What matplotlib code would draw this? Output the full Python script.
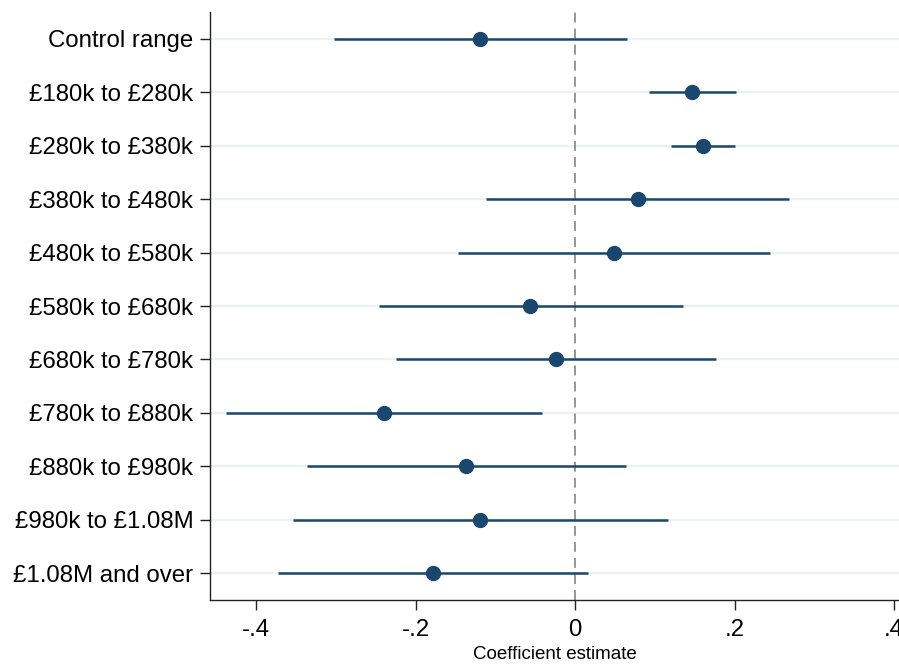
import matplotlib
matplotlib.use('Agg')
import matplotlib.pyplot as plt

# Coefficient estimates with 95% confidence intervals
labels = ['Control range', '£180k to £280k', '£280k to £380k', '£380k to £480k',
          '£480k to £580k', '£580k to £680k', '£680k to £780k', '£780k to £880k',
          '£880k to £980k', '£980k to £1.08M', '£1.08M and over']
coef = [-0.119, 0.147, 0.160, 0.079, 0.049, -0.056, -0.024, -0.239, -0.137, -0.119, -0.178]
ci_low = [-0.302, 0.093, 0.120, -0.111, -0.147, -0.246, -0.224, -0.438, -0.336, -0.354, -0.373]
ci_high = [0.065, 0.202, 0.200, 0.268, 0.245, 0.135, 0.177, -0.041, 0.064, 0.117, 0.016]
xticks = [-0.4, -0.2, 0, 0.2, 0.4]
xtick_labels = ['-.4', '-.2', '0', '.2', '.4']

plt.rcParams['font.family'] = ['Liberation Sans', 'DejaVu Sans']

navy = '#1a476f'

fig = plt.figure(figsize=(8.99, 6.65), dpi=100)
ax = fig.add_axes([210 / 899, 65 / 665, 1 - 210 / 899, 588 / 665])

ypos = list(range(len(labels)))

# faint horizontal grid at each category
for y in ypos:
    ax.axhline(y, color='#eaf2f3', lw=1.6, zorder=0)

ax.axvline(0, color='#7a7a7a', lw=1.1, ls=(0, (6.5, 4)), zorder=1)

ax.hlines(ypos, ci_low, ci_high, color=navy, lw=1.8, zorder=2)
ax.plot(coef, ypos, 'o', color=navy, markersize=10, zorder=3)

ax.set_yticks(ypos)
ax.set_yticklabels(labels, fontsize=17.3)
ax.set_ylim(len(labels) - 0.5, -0.5)

ax.set_xticks(xticks)
ax.set_xticklabels(xtick_labels, fontsize=17.3)
ax.set_xlim((210 - 575) / 797.5, (899 - 575) / 797.5)
ax.set_xlabel('Coefficient estimate', fontsize=13.5, labelpad=3)

for side in ['top', 'right']:
    ax.spines[side].set_visible(False)
for side in ['left', 'bottom']:
    ax.spines[side].set_linewidth(1.0)
    ax.spines[side].set_color('#222222')
ax.tick_params(axis='both', length=7, width=1.0, color='#222222')
ax.tick_params(axis='x', pad=7)
ax.tick_params(axis='y', pad=5)

fig.savefig('out.png', dpi=100)
